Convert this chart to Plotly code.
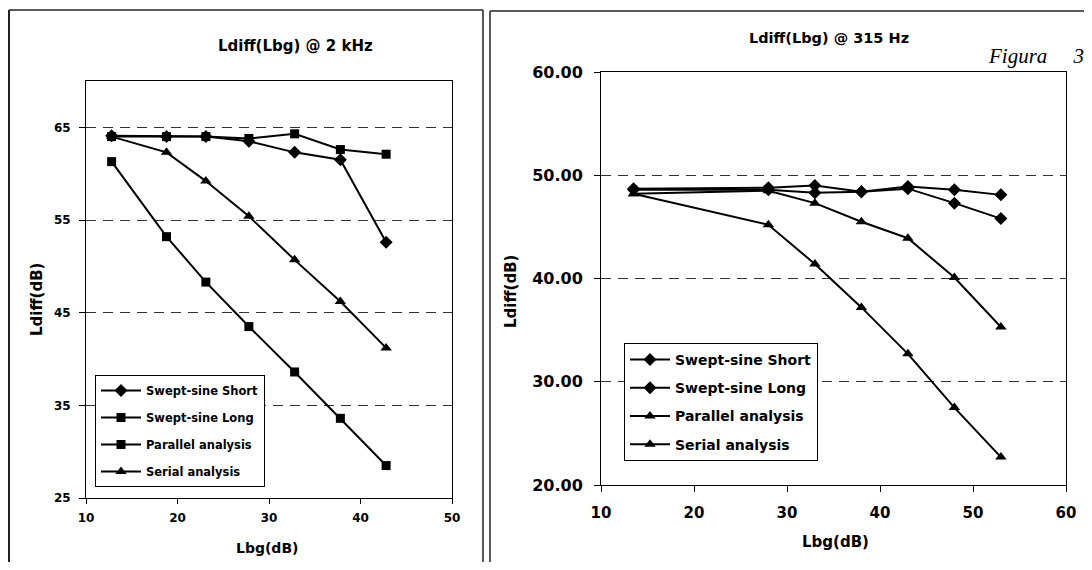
import plotly.graph_objects as go

# ---------------- data ----------------
left_x = [12.8, 18.8, 23.1, 27.8, 32.8, 37.8, 42.8]
left_short = [64.1, 64.0, 64.0, 63.5, 62.3, 61.5, 52.6]
left_long = [64.0, 64.0, 64.0, 63.8, 64.3, 62.6, 62.1]
left_parallel = [61.3, 53.2, 48.3, 43.5, 38.6, 33.6, 28.5]
left_serial = [64.0, 62.3, 59.2, 55.4, 50.7, 46.2, 41.2]

right_x = [13.5, 28, 33, 38, 43, 48, 53]
right_short = [48.7, 48.8, 49.0, 48.4, 48.9, 48.6, 48.1]
right_long = [48.6, 48.6, 48.3, 48.4, 48.7, 47.3, 45.8]
right_parallel = [48.2, 48.5, 47.3, 45.5, 43.9, 40.1, 35.3]
right_serial = [48.2, 45.2, 41.4, 37.2, 32.7, 27.5, 22.7]

series_names = ["Swept-sine Short", "Swept-sine Long", "Parallel analysis", "Serial analysis"]
left_symbols = ["diamond", "square", "square", "triangle-up"]
right_symbols = ["diamond", "diamond", "triangle-up", "triangle-up"]

left_title = "Ldiff(Lbg) @ 2 kHz"
right_title = "Ldiff(Lbg) @ 315 Hz"
y_title = "Ldiff(dB)"
x_title = "Lbg(dB)"
fig_label = "Figura\u00a0\u00a0\u00a0\u00a0\u00a03"

# The page body keeps its default 8px margin, so the figure is drawn 16px
# smaller and every layout position is given in window pixels minus 8.
WIN_W, WIN_H = 1092, 570
OFF = 8
W, H = WIN_W - 2 * OFF, WIN_H - 2 * OFF
FONT = "DejaVu Sans, Arial, sans-serif"


def px(x):
    return (x - OFF) / W


def py(y):
    return 1 - (y - OFF) / H


msize = {"diamond": 10, "square": 9, "triangle-up": 10}

fig = go.Figure()

left_vals = [left_short, left_long, left_parallel, left_serial]
for i, (name, vals, sym) in enumerate(zip(series_names, left_vals, left_symbols)):
    fig.add_trace(go.Scatter(
        x=left_x, y=vals, name=name, mode="lines+markers",
        line=dict(color="black", width=2),
        marker=dict(symbol=sym, size=msize[sym], color="black"),
        xaxis="x", yaxis="y", legend="legend", legendgroup="L%d" % i,
    ))

right_vals = [right_short, right_long, right_parallel, right_serial]
for i, (name, vals, sym) in enumerate(zip(series_names, right_vals, right_symbols)):
    fig.add_trace(go.Scatter(
        x=right_x, y=vals, name=name, mode="lines+markers",
        line=dict(color="black", width=2),
        marker=dict(symbol=sym, size=msize[sym], color="black"),
        xaxis="x2", yaxis="y2", legend="legend2", legendgroup="R%d" % i,
    ))

axis_common = dict(
    showline=True, linecolor="black", linewidth=1, mirror=True,
    ticks="outside", tickcolor="black", zeroline=False, automargin=False,
)
grid_common = dict(showgrid=True, gridcolor="#333333", gridwidth=1, griddash="10px,7px")

fig.update_layout(
    width=W, height=H, autosize=False,
    margin=dict(l=0, r=0, t=0, b=0, pad=0, autoexpand=False),
    paper_bgcolor="white", plot_bgcolor="white",
    font=dict(family=FONT, color="black"),
    xaxis=dict(domain=[px(86), px(452)], anchor="y", range=[10, 50], tick0=10, dtick=10,
               showgrid=False, ticklen=5, ticklabelstandoff=4,
               tickfont=dict(size=12, weight="bold"), **axis_common),
    yaxis=dict(domain=[py(498), py(81)], anchor="x", range=[25, 70], tick0=25, dtick=10,
               ticklen=6, tickfont=dict(size=12, weight="bold"), ticklabelstandoff=6,
               **grid_common, **axis_common),
    xaxis2=dict(domain=[px(601), px(1066)], anchor="y2", range=[10, 60], tick0=10, dtick=10,
                showgrid=False, ticklen=6, ticklabelstandoff=8,
                tickfont=dict(size=15, weight="bold"), **axis_common),
    yaxis2=dict(domain=[py(485), py(72)], anchor="x2", range=[20, 60], tick0=20, dtick=10,
                tickformat=".2f", ticklen=6, tickfont=dict(size=16, weight="bold"),
                ticklabelstandoff=8, **grid_common, **axis_common),
    legend=dict(x=px(95), y=py(375), xanchor="left", yanchor="top",
                bgcolor="white", bordercolor="black", borderwidth=1,
                font=dict(size=11.5, weight="bold"), tracegroupgap=8, itemwidth=40),
    legend2=dict(x=px(624), y=py(343), xanchor="left", yanchor="top",
                 bgcolor="white", bordercolor="black", borderwidth=1,
                 font=dict(size=14, weight="bold"), tracegroupgap=7, itemwidth=40),
    showlegend=True,
)

annotations = [
    dict(text="<b>%s</b>" % left_title, x=px(295), y=py(46), font=dict(size=15)),
    dict(text="<b>%s</b>" % right_title, x=px(829), y=py(38), font=dict(size=14.5)),
    dict(text="<b>%s</b>" % y_title, x=px(37), y=py(300), textangle=-90, font=dict(size=15)),
    dict(text="<b>%s</b>" % y_title, x=px(511), y=py(292), textangle=-90, font=dict(size=15)),
    dict(text="<b>%s</b>" % x_title, x=px(267), y=py(548), font=dict(size=14)),
    dict(text="<b>%s</b>" % x_title, x=px(835), y=py(542), font=dict(size=15)),
    dict(text="<i>%s</i>" % fig_label, x=px(1086), y=py(56), xanchor="right",
         font=dict(size=21, family="Liberation Serif, Times New Roman, serif")),
]
for a in annotations:
    a.setdefault("xanchor", "center")
    a.update(xref="paper", yref="paper", yanchor="middle", showarrow=False)
    fig.add_annotation(**a)

line_style = dict(color="#222222", width=1.5)
shapes = [
    dict(type="line", x0=px(9), x1=px(9), y0=py(10), y1=py(WIN_H), line=dict(color="#222222", width=2)),
    dict(type="line", x0=px(9), x1=px(483), y0=py(10), y1=py(10), line=line_style),
    dict(type="line", x0=px(483), x1=px(483), y0=py(10), y1=py(WIN_H), line=line_style),
    dict(type="line", x0=px(490), x1=px(490), y0=py(11), y1=py(WIN_H), line=line_style),
    dict(type="line", x0=px(490), x1=px(WIN_W), y0=py(11), y1=py(11), line=line_style),
]
for s in shapes:
    s.update(xref="paper", yref="paper")
    fig.add_shape(**s)

fig.write_html("out.html", config={"displayModeBar": False})
